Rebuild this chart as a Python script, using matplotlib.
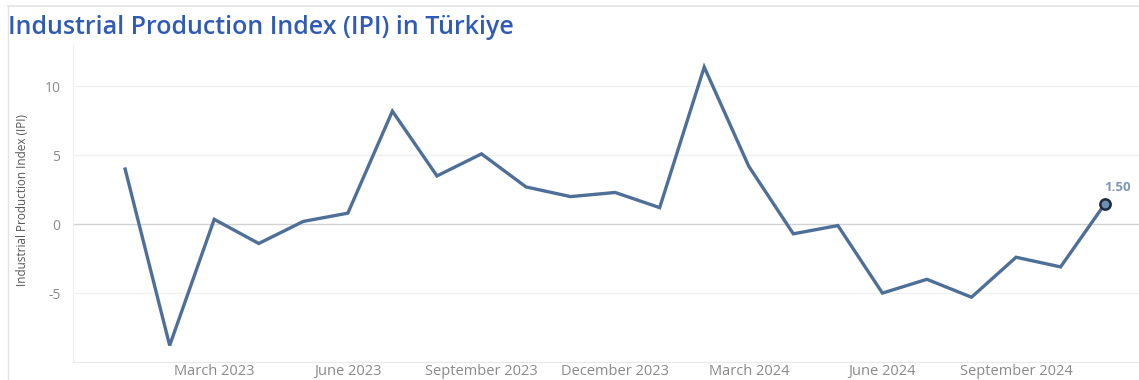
import matplotlib.pyplot as plt
import matplotlib.ticker as mticker

# Monthly IPI change, Jan 2023 - Nov 2024
months = ["Jan 2023", "Feb 2023", "Mar 2023", "Apr 2023", "May 2023", "Jun 2023",
          "Jul 2023", "Aug 2023", "Sep 2023", "Oct 2023", "Nov 2023", "Dec 2023",
          "Jan 2024", "Feb 2024", "Mar 2024", "Apr 2024", "May 2024", "Jun 2024",
          "Jul 2024", "Aug 2024", "Sep 2024", "Oct 2024", "Nov 2024"]
ipi = [4.0, -8.8, 0.35, -1.4, 0.2, 0.8, 8.2, 3.5, 5.1, 2.7, 2.0, 2.3,
       1.2, 11.4, 4.2, -0.7, -0.1, -5.0, -4.0, -5.3, -2.4, -3.1, 1.5]

tick_positions = [2, 5, 8, 11, 14, 17, 20]
tick_labels = ["March 2023", "June 2023", "September 2023", "December 2023",
               "March 2024", "June 2024", "September 2024"]
y_ticks = [-5, 0, 5, 10]

plt.rcParams['font.family'] = ['Open Sans', 'DejaVu Sans']

W, H = 1139, 380
fig = plt.figure(figsize=(W / 100, H / 100), dpi=100)
fig.patch.set_facecolor("white")

# light outer frame lines (top and left)
fig.add_artist(plt.Line2D([8 / W, 1], [1 - 5.5 / H, 1 - 5.5 / H], color="#e4e4e4", lw=1.2))
fig.add_artist(plt.Line2D([8 / W, 8 / W], [0, 1 - 5.5 / H], color="#e4e4e4", lw=1.0))

fig.text(8 / W, 1 - 27 / H, "Industrial Production Index (IPI) in Türkiye",
         color="#2f5bb7", fontsize=18, fontweight="semibold", va="center", ha="left")

ax = fig.add_axes([73 / W, 1 - 362 / H, 1 - 73 / W, (362 - 45) / H])
x = list(range(len(ipi)))
ax.plot(x, ipi, color="#4e6f98", lw=2.4, solid_joinstyle="miter", zorder=3)
ax.scatter([x[-1]], [ipi[-1]], s=55, facecolor="#6f8fb3", edgecolor="#1d2b3a",
           linewidth=1.8, zorder=4)
ax.annotate(f"{ipi[-1]:.2f}", (x[-1], ipi[-1]), xytext=(-1, 7), textcoords="offset points",
            color="#7f97b8", fontsize=9.5, fontweight="bold", ha="left", va="bottom")

ax.set_xlim(-1.17, 22.76)
ax.set_ylim(-10, 13)
ax.set_yticks(y_ticks)
ax.yaxis.set_major_formatter(mticker.FuncFormatter(lambda v, p: f"{v:g}"))
ax.set_xticks(tick_positions)
ax.set_xticklabels(tick_labels)

for v in y_ticks:
    if v == 0:
        ax.axhline(v, color="#d2d2d2", lw=1.0, zorder=1)
    else:
        ax.axhline(v, color="#f0f0f0", lw=1.0, zorder=1)

for s in ["top", "right"]:
    ax.spines[s].set_visible(False)
ax.spines["left"].set_color("#eeeeee")
ax.spines["bottom"].set_color("#e8e8e8")
ax.tick_params(axis="both", length=0, colors="#8a8a8a")
ax.tick_params(axis="x", pad=1.5, labelsize=10.5)
ax.tick_params(axis="y", pad=9, labelsize=10)
ax.set_ylabel("Industrial Production Index (IPI)", fontsize=8.5, color="#555555")
ax.yaxis.set_label_coords(-44 / (W - 73), 0.51)
ax.set_facecolor("white")

fig.savefig("out.png", dpi=100)
